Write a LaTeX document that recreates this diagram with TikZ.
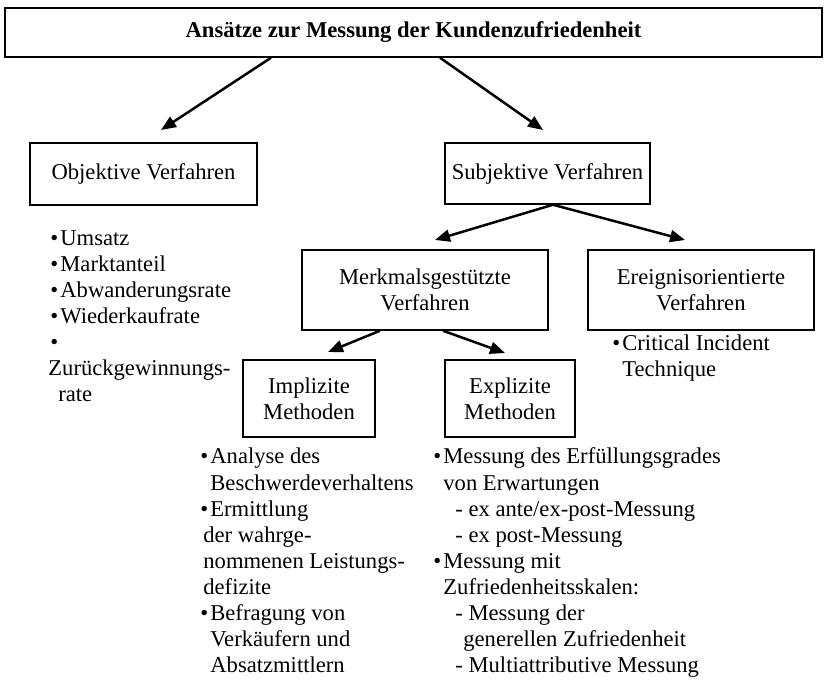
\documentclass[tikz,border=0pt]{standalone}
\usepackage{fontspec}
\setmainfont{Liberation Serif}
\usetikzlibrary{arrows.meta,positioning,calc}
\newcommand{\bul}{\makebox[5pt][l]{\textbullet}}

\begin{document}
\begin{tikzpicture}[x=0.5pt,y=-0.5pt,
  every node/.style={font=\fontsize{11.3}{13}\selectfont},
  box/.style={draw,line width=0.75pt,inner sep=0pt,align=center},
  item/.style={anchor=base west,inner sep=0pt},
  arr/.style={line width=1.25pt,-{Triangle[length=7.5pt,width=6pt]}}]
  \useasboundingbox (0,0) rectangle (826,683);

  % Kaesten
  \node[box,minimum width=408.5pt,minimum height=24.5pt,font=\fontsize{11.3}{13}\selectfont\bfseries] (top) at (413.5,32.5) {Ansätze zur Messung der Kundenzufriedenheit};
  \node[box,minimum width=113.5pt,minimum height=31pt] (obj) at (143.5,174) {Objektive Verfahren};
  \node[box,minimum width=102.5pt,minimum height=30.5pt] (subj) at (547.5,173.5) {Subjektive Verfahren};
  \node[box,minimum width=123pt,minimum height=40pt] (merk) at (425,290) {Merkmalsgestützte\\Verfahren};
  \node[box,minimum width=113pt,minimum height=40pt] (ereig) at (701,290) {Ereignisorientierte\\Verfahren};
  \node[box,minimum width=66pt,minimum height=38.5pt] (impl) at (309,398.5) {Implizite\\Methoden};
  \node[box,minimum width=65pt,minimum height=38.5pt] (expl) at (510,398.5) {Explizite\\Methoden};

  % Pfeilspitzen
  \coordinate (objtip) at (161,130);
  \coordinate (subjtip) at (543,130);
  \coordinate (merktip) at (435,240);
  \coordinate (ereigtip) at (685,240);
  \coordinate (impltip) at (328,352);
  \coordinate (expltip) at (505,353);

  \draw[arr] ([xshift=-71.25pt]top.south) -- (objtip);
  \draw[arr] ([xshift=13.25pt]top.south) -- (subjtip);
  \draw[arr] ([xshift=2.75pt]subj.south) -- (merktip);
  \draw[arr] ([xshift=2.75pt]subj.south) -- (ereigtip);
  \draw[arr] ([xshift=-22.5pt]merk.south) -- (impltip);
  \draw[arr] ([xshift=9pt]merk.south) -- (expltip);

  % Listen
  \foreach \x/\t [count=\i] in {50/{\bul Umsatz},50/{\bul Marktanteil},50/{\bul Abwanderungsrate},
      50/{\bul Wiederkaufrate},50/{\bul},48/{Zurückgewinnungs-},58/{rate}}
    \node[item] (ob\i) at (\x,{246+26*(\i-1)}) {\t};

  \node[item] (ci1) at (612,351) {\bul Critical Incident};
  \node[item] (ci2) at (622,377) {Technique};

  \foreach \x/\t [count=\i] in {200/{\bul Analyse des},210/{Beschwerdeverhaltens},200/{\bul Ermittlung},
      203/{der wahrge-},203/{nommenen Leistungs-},203/{defizite},200/{\bul Befragung von},
      210/{Verkäufern und},210/{Absatzmittlern}}
    \node[item] (im\i) at (\x,{464+26.1*(\i-1)}) {\t};

  \foreach \x/\t [count=\i] in {433/{\bul Messung des Erfüllungsgrades},443/{von Erwartungen},
      455/{- ex ante/ex-post-Messung},455/{- ex post-Messung},433/{\bul Messung mit},
      443/{Zufriedenheitsskalen:},455/{- Messung der},463/{generellen Zufriedenheit},
      455/{- Multiattributive Messung}}
    \node[item] (ex\i) at (\x,{464+26.1*(\i-1)}) {\t};
\end{tikzpicture}
\end{document}
